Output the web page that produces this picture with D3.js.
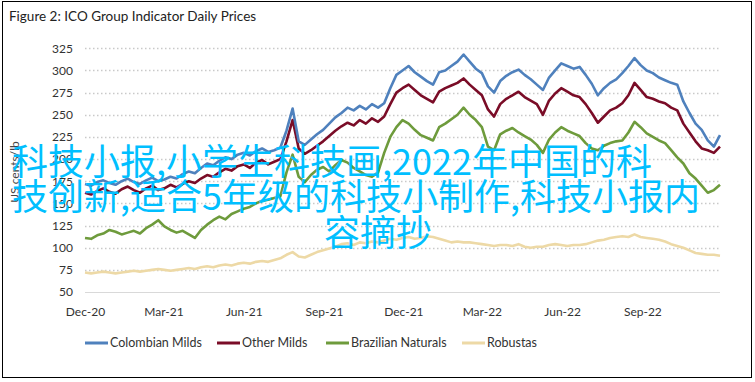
<!DOCTYPE html>
<html>
<head>
<meta charset="utf-8">
<script src="https://cdn.jsdelivr.net/npm/d3@7"></script>
<style>
  html, body { margin: 0; padding: 0; background: #fff; }
  svg { display: block; }
</style>
</head>
<body>
<svg id="chart" width="755" height="382"></svg>
<script>
// ---- Data (weekly, starting 1 Dec 2020) ----
const startDate = "2020-12-01";
const seriesNames = ["Colombian Milds", "Other Milds", "Brazilian Naturals", "Robustas"];
const colombianMilds = [172,170,174,176,173,171,175,178,174,172,176,179,175,177,180,178,183,186,184,190,195,193,198,202,200,205,207,204,209,212,208,210,213,232,257,220,216,222,228,233,240,247,252,258,255,260,256,262,258,263,280,295,300,305,298,293,288,284,298,300,305,310,318,310,302,297,282,275,288,294,298,301,295,290,284,278,292,300,308,305,302,304,295,285,272,280,286,290,297,305,314,306,300,297,292,289,286,284,265,252,240,233,221,214,227];
const otherMilds = [162,160,164,167,163,161,166,169,165,162,167,170,165,167,171,168,172,175,173,178,182,180,185,189,187,192,194,190,196,199,194,197,200,220,244,212,206,210,215,220,226,232,237,241,238,244,240,246,242,248,262,275,280,284,278,272,268,264,276,280,283,286,291,284,278,272,256,248,262,268,272,276,270,266,262,250,266,274,280,276,272,270,262,252,241,248,255,258,263,272,286,278,270,268,265,263,258,255,240,230,220,212,210,207,214];
const brazilianNaturals = [111,110,114,116,120,118,115,117,119,116,122,126,131,124,120,117,119,115,111,120,126,131,135,132,138,141,144,146,150,153,154,156,158,185,205,180,174,182,188,191,186,193,199,196,190,186,182,180,185,207,225,236,244,240,233,227,224,221,236,240,245,250,258,250,244,236,214,210,228,232,235,230,226,222,216,207,222,230,236,232,229,226,218,212,210,215,218,220,221,230,242,236,229,225,221,218,210,202,195,184,178,170,162,165,171];
const robustas = [72,71,72,73,72,71,72,73,74,73,74,75,76,75,74,75,76,77,76,78,79,78,80,81,80,82,83,82,84,85,84,86,88,92,95,90,89,92,95,97,99,101,104,105,103,106,105,107,106,108,110,109,111,112,110,111,113,112,110,108,106,107,106,106,105,104,103,102,103,103,102,104,101,100,101,101,103,104,103,102,103,103,104,106,108,109,111,112,113,112,115,112,111,110,109,107,104,102,100,97,94,93,92,92,91];
const yTicks = [50,75,100,125,150,175,200,225,250,275,300,325];
const xTickDates = ["2020-12-01","2021-03-01","2021-06-01","2021-09-01","2021-12-01","2022-03-01","2022-06-01","2022-09-01"];
const colors = ["#4F81BD", "#7A0C27", "#6E9B3C", "#EDD9A6"];
const titleText = "Figure 2: ICO Group Indicator Daily Prices";
const yAxisTitle = "US cents/lb";
const overlayLines = ["科技小报,小学生科技画,2022年中国的科", "技创新,适合5年级的科技小制作,科技小报内", "容摘抄"];

// ---- Build ----
const parse = d3.timeParse("%Y-%m-%d");
const t0 = parse(startDate);
const allSeries = [colombianMilds, otherMilds, brazilianNaturals, robustas];
const table = allSeries.map(vals => vals.map((v, i) => ({ date: d3.timeDay.offset(t0, 7 * i), value: v })));
const lastDate = d3.timeDay.offset(t0, 7 * (colombianMilds.length - 1));

const svg = d3.select("#chart");
const font = "Lato, 'DejaVu Sans', sans-serif";

// outer border
svg.append("rect").attr("x", 2.5).attr("y", 1.5).attr("width", 749).attr("height", 376)
  .attr("fill", "#fff").attr("stroke", "#000").attr("stroke-width", 1);

// title
svg.append("text").attr("x", 9).attr("y", 21).text(titleText)
  .attr("font-family", font).attr("font-size", 13.5).attr("fill", "#222");

const x = d3.scaleTime().domain([t0, lastDate]).range([85, 720]);
const y = d3.scaleLinear().domain([50, 325]).range([292, 48.3]);

// gridlines
const grid = svg.append("g");
grid.selectAll("line").data(yTicks).join("line")
  .attr("x1", 85).attr("x2", 720)
  .attr("y1", d => Math.round(y(d)) + 0.5).attr("y2", d => Math.round(y(d)) + 0.5)
  .attr("stroke", d => d === 50 ? "#d9d9d9" : "#c9c9c9")
  .attr("stroke-width", d => d === 50 ? 1.2 : 1.4)
  .attr("stroke-dasharray", d => d === 50 ? null : "1.5,2.5");

// y axis
const yAxis = svg.append("g").attr("transform", "translate(78,0)")
  .call(d3.axisLeft(y).tickValues(yTicks).tickSize(0).tickPadding(5));
yAxis.select(".domain").remove();
yAxis.selectAll("text").attr("font-family", font).attr("font-size", 12).attr("fill", "#333");

// x axis
const xAxis = svg.append("g").attr("transform", "translate(0,301)")
  .call(d3.axisBottom(x).tickValues(xTickDates.map(parse)).tickFormat(d3.timeFormat("%b-%y")).tickSize(0).tickPadding(6));
xAxis.select(".domain").remove();
xAxis.selectAll("text").attr("font-family", font).attr("font-size", 12).attr("fill", "#333");

// y axis title
svg.append("text").attr("transform", "translate(19,172) rotate(-90)")
  .attr("text-anchor", "middle").text(yAxisTitle)
  .attr("font-family", font).attr("font-size", 12).attr("fill", "#444");

// lines
const line = d3.line().x(d => x(d.date)).y(d => y(d.value));
const drawOrder = [3, 2, 1, 0];
svg.append("g").selectAll("path").data(drawOrder).join("path")
  .attr("d", k => line(table[k]))
  .attr("fill", "none")
  .attr("stroke", k => colors[k])
  .attr("stroke-width", 2.6)
  .attr("stroke-linejoin", "round");

// legend
const legendX = [85, 217, 326, 462];
const lg = svg.append("g").selectAll("g").data(seriesNames).join("g")
  .attr("transform", (d, i) => `translate(${legendX[i]},343)`);
lg.append("line").attr("x1", 0).attr("x2", 23).attr("y1", 0).attr("y2", 0)
  .attr("stroke", (d, i) => colors[i]).attr("stroke-width", 3);
lg.append("text").attr("x", 25).attr("y", 0).attr("dy", "0.35em").text(d => d)
  .attr("font-family", font).attr("font-size", 12.5).attr("fill", "#333");

// overlay text
const ov = svg.append("g").attr("font-family", "'Noto Sans CJK SC', sans-serif")
  .attr("font-size", 36).attr("fill", "#00BFFF");
const ovPos = [{x: 12, y: 159, a: "start"}, {x: 12, y: 194, a: "start"}, {x: 378, y: 230, a: "middle"}];
ov.selectAll("text").data(overlayLines).join("text")
  .attr("x", (d, i) => ovPos[i].x).attr("y", (d, i) => ovPos[i].y)
  .attr("text-anchor", (d, i) => ovPos[i].a)
  .attr("dominant-baseline", "central")
  .text(d => d);
</script>
</body>
</html>
